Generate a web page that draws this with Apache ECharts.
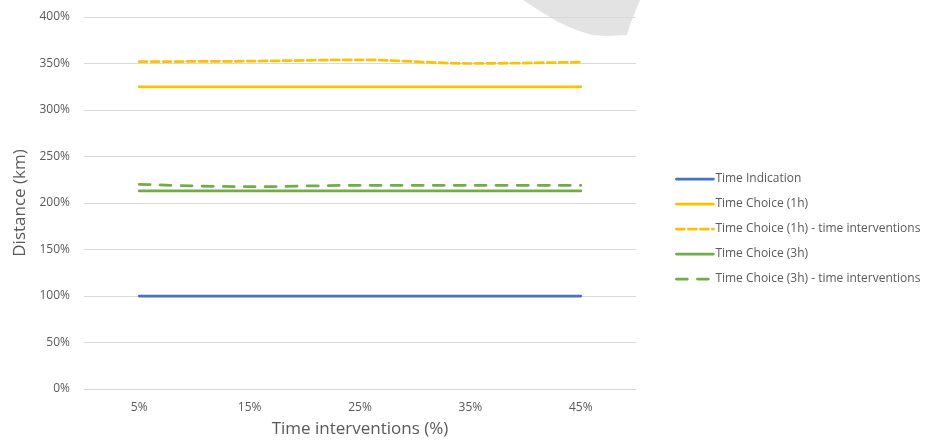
<!DOCTYPE html>
<html>
<head>
<meta charset="utf-8">
<script src="https://cdn.jsdelivr.net/npm/echarts@6/dist/echarts.min.js"></script>
<style>
  html, body { margin: 0; padding: 0; background: #fff; }
  #chart { width: 931px; height: 441px; }
</style>
</head>
<body>
<div id="chart"></div>
<script>
// Share of time interventions (x) against relative travel distance (y, %)
const categories = ['5%', '15%', '25%', '35%', '45%'];
const timeIndication = [100, 100, 100, 100, 100];
const timeChoice1h = [325, 325, 325, 325, 325];
const timeChoice1hInterventions = [352, 352.5, 354, 350, 351.5];
const timeChoice3h = [213, 213, 213, 213, 213];
const timeChoice3hInterventions = [220, 217.5, 219, 219, 219];
const yTicks = [0, 50, 100, 150, 200, 250, 300, 350, 400];

const textColor = '#595959';
const font = '"Open Sans", "Noto Sans", sans-serif';

function lineSeries(name, data, color, type) {
  return {
    name: name,
    type: 'line',
    data: data,
    symbol: 'none',
    smooth: 0.3,
    lineStyle: { color: color, width: 2.75, type: type, cap: 'round' },
    itemStyle: { color: color },
    z: 3
  };
}

const chart = echarts.init(document.getElementById('chart'), null, { renderer: 'canvas' });
chart.setOption({
  animation: false,
  backgroundColor: '#ffffff',
  textStyle: { fontFamily: font },
  grid: { left: 84, right: 295, top: 17, bottom: 52, containLabel: false, outerBoundsMode: 'none' },
  graphic: [{
    type: 'polygon',
    z: -10,
    shape: {
      points: [[523, 0], [540, 11], [558, 22], [576, 30], [592, 35], [606, 36], [627, 35], [631, 22], [636, 10], [640, 0]]
    },
    style: { fill: '#e3e3e3' }
  }],
  xAxis: {
    type: 'category',
    data: categories,
    boundaryGap: true,
    axisLine: { show: true, lineStyle: { color: '#d9d9d9', width: 1 } },
    axisTick: { show: false },
    axisLabel: { color: textColor, fontSize: 12, margin: 13, fontFamily: font },
    name: 'Time interventions (%)',
    nameLocation: 'middle',
    nameGap: 32,
    nameTextStyle: { color: textColor, fontSize: 17, fontFamily: font }
  },
  yAxis: {
    type: 'value',
    min: yTicks[0],
    max: yTicks[yTicks.length - 1],
    interval: 50,
    axisLine: { show: false },
    axisTick: { show: false },
    splitLine: { lineStyle: { color: '#d9d9d9', width: 1 } },
    axisLabel: { color: textColor, fontSize: 12, margin: 14, fontFamily: font, formatter: '{value}%' },
    name: 'Distance (km)',
    nameLocation: 'middle',
    nameRotate: 90,
    nameGap: 52,
    nameTextStyle: { color: textColor, fontSize: 17, fontFamily: font }
  },
  legend: {
    orient: 'vertical',
    left: 675,
    top: 173,
    padding: 0,
    itemWidth: 37,
    itemHeight: 14,
    itemGap: 13,
    itemStyle: { opacity: 0 },
    lineStyle: { width: 2.75 },
    textStyle: { color: textColor, fontSize: 12, fontFamily: font, padding: [0, 0, 0, -3] },
    data: [
      'Time Indication',
      'Time Choice (1h)',
      'Time Choice (1h) - time interventions',
      'Time Choice (3h)',
      'Time Choice (3h) - time interventions'
    ]
  },
  series: [
    lineSeries('Time Indication', timeIndication, '#4472C4', 'solid'),
    lineSeries('Time Choice (1h)', timeChoice1h, '#FFC000', 'solid'),
    lineSeries('Time Choice (1h) - time interventions', timeChoice1hInterventions, '#FFC000', [8, 4]),
    lineSeries('Time Choice (3h)', timeChoice3h, '#70AD47', 'solid'),
    lineSeries('Time Choice (3h) - time interventions', timeChoice3hInterventions, '#70AD47', [11, 10])
  ]
});
</script>
</body>
</html>
